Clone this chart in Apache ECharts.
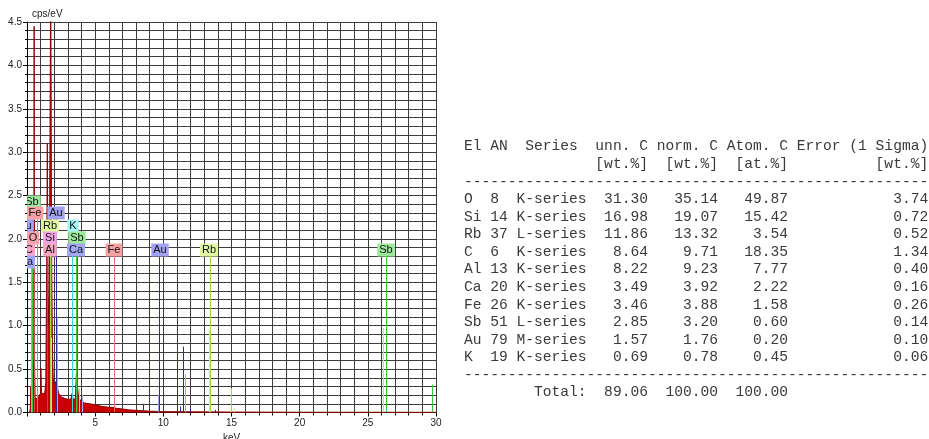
<!DOCTYPE html>
<html>
<head>
<meta charset="utf-8">
<script src="https://cdn.jsdelivr.net/npm/echarts@6/dist/echarts.min.js"></script>
<style>
html, body { margin: 0; padding: 0; background: #fff; }
#chart { width: 929px; height: 439px; }
</style>
</head>
<body>
<div id="chart"></div>
<script>
// ---- EDS spectrum outline: energy (keV) and intensity (cps/eV) ----
const spectrumKeV = [0.20, 0.24, 0.28, 0.32, 0.45, 0.50, 0.525, 0.55, 0.60, 0.70, 0.80, 0.92, 0.98, 1.02, 1.06,
  1.15, 1.30, 1.38, 1.44, 1.49, 1.54, 1.60, 1.66, 1.74, 1.80, 1.86, 1.92, 2.00, 2.08, 2.14, 2.22, 2.32, 2.50,
  2.80, 3.10, 3.25, 3.31, 3.38, 3.55, 3.62, 3.70, 3.80, 4.00, 4.20, 4.60, 5.00, 5.50, 6.00, 6.25, 6.38, 6.50,
  7.00, 7.50, 8.00, 8.50, 9.00, 10.0, 12.0, 15.0, 20.0, 30.0];
const spectrumCps = [0.00, 0.05, 0.30, 0.12, 0.10, 0.60, 4.45, 0.60, 0.16, 0.17, 0.16, 0.18, 0.22, 0.51, 0.22,
  0.20, 0.22, 0.35, 1.60, 3.10, 1.40, 1.00, 2.20, 5.20, 2.00, 0.80, 0.40, 0.32, 0.34, 0.36, 0.30, 0.22, 0.18,
  0.16, 0.15, 0.17, 0.22, 0.15, 0.16, 0.44, 0.30, 0.15, 0.14, 0.11, 0.10, 0.09, 0.07, 0.06, 0.06, 0.08, 0.05,
  0.04, 0.03, 0.025, 0.02, 0.015, 0.010, 0.008, 0.005, 0.003, 0.002];

// ---- element line markers: [energy keV, height cps/eV] ----
const linesC = [[0.28, 1.87]];
const linesO = [[0.52, 2.01]];
const linesAl = [[1.49, 1.87]];
const linesSi = [[1.74, 2.01]];
const linesK = [[0.26, 2.30], [3.31, 2.15]];
const linesKWeak = [[3.59, 0.20]];
const linesCa = [[0.34, 1.74], [3.69, 1.87]];
const linesCaWeak = [[4.01, 0.20]];
const linesFe = [[0.70, 2.30], [6.40, 1.87]];
const linesRb = [[1.69, 2.15], [13.39, 1.87], [14.96, 0.28]];
const linesRbWeak = [[1.75, 0.86], [13.34, 0.94], [15.20, 0.05]];
const linesSb = [[0.37, 2.43], [3.60, 2.01], [26.36, 1.87], [29.73, 0.32]];
const linesSbWeak = [[3.84, 0.28], [26.11, 0.97]];
const linesAu = [[2.12, 2.30], [9.71, 1.87], [8.49, 0.10], [11.20, 0.07], [11.44, 0.76], [11.92, 0.04], [13.78, 0.03]];
const linesAuWeak = [[2.20, 1.08], [9.63, 0.20], [11.58, 0.44]];

// ---- marker labels ----
const markerLabelText = ['Sb', 'K', 'Fe', 'Au', 'Au', 'Rb', 'K', 'O', 'Si', 'Sb', 'C', 'Al', 'Ca', 'Fe', 'Au', 'Rb', 'Sb', 'Ca'];
const markerLabelKeV  = [0.37, 0.22, 0.57, 2.13, -0.14, 1.69, 3.34, 0.42, 1.72, 3.65, 0.15, 1.68, 3.62, 6.35, 9.72, 13.32, 26.34, -0.04];
const markerLabelRow  = [2.43, 2.30, 2.30, 2.30, 2.15, 2.15, 2.15, 2.01, 2.01, 2.01, 1.87, 1.87, 1.87, 1.87, 1.87, 1.87, 1.87, 1.74];

// ---- quantification table ----
const tableEl     = ['O', 'Si', 'Rb', 'C', 'Al', 'Ca', 'Fe', 'Sb', 'Au', 'K'];
const tableAN     = [8, 14, 37, 6, 13, 20, 26, 51, 79, 19];
const tableSeries = ['K-series', 'K-series', 'L-series', 'K-series', 'K-series', 'K-series', 'K-series', 'L-series', 'M-series', 'K-series'];
const tableUnnC   = [31.30, 16.98, 11.86, 8.64, 8.22, 3.49, 3.46, 2.85, 1.57, 0.69];
const tableNormC  = [35.14, 19.07, 13.32, 9.71, 9.23, 3.92, 3.88, 3.20, 1.76, 0.78];
const tableAtomC  = [49.87, 15.42, 3.54, 18.35, 7.77, 2.22, 1.58, 0.60, 0.20, 0.45];
const tableError  = [3.74, 0.72, 0.52, 1.34, 0.40, 0.16, 0.26, 0.14, 0.10, 0.06];
const tableTotals = [89.06, 100.00, 100.00];

// ---- colours per element ----
const elementStyle = {
  C:  { box: '#f6a6c6', line: '#d05080' },
  O:  { box: '#f7a3ad', line: '#d04a58' },
  Al: { box: '#f7a6c4', line: '#c83a6a' },
  Si: { box: '#f2a4e4', line: '#c040a0' },
  K:  { box: '#a6f6f6', line: '#40d6d6', weak: '#a6eeee' },
  Ca: { box: '#a2a8f2', line: '#3f5fd6', weak: '#a6b0ee' },
  Fe: { box: '#f6a2a2', line: '#e07676' },
  Rb: { box: '#e0f8a4', line: '#9ed846', weak: '#c4ec8c' },
  Sb: { box: '#9ce89c', line: '#3cc43c', weak: '#a4eaa4' },
  Au: { box: '#a2a2f2', line: '#2c2c9c', weak: '#a4a4ea' }
};

const markerSets = [
  ['C', linesC, 'line'], ['O', linesO, 'line'], ['Al', linesAl, 'line'], ['Si', linesSi, 'line'],
  ['K', linesK, 'line'], ['K', linesKWeak, 'weak'], ['Ca', linesCa, 'line'], ['Ca', linesCaWeak, 'weak'],
  ['Fe', linesFe, 'line'], ['Rb', linesRb, 'line'], ['Rb', linesRbWeak, 'weak'],
  ['Sb', linesSb, 'line'], ['Sb', linesSbWeak, 'weak'], ['Au', linesAu, 'line'], ['Au', linesAuWeak, 'weak']
];

const chart = echarts.init(document.getElementById('chart'), null, { renderer: 'canvas' });

const gridLine = { lineStyle: { color: '#3c3c3c', width: 1 } };
const tickFont = { fontFamily: 'Liberation Sans', fontSize: 10, color: '#222' };

function markerLineSeries(el, data, kind) {
  const color = elementStyle[el][kind];
  return {
    type: 'custom',
    clip: true,
    z: 3,
    silent: true,
    data: data,
    encode: { x: 0, y: 1 },
    renderItem: function (params, api) {
      const p0 = api.coord([api.value(0), 0]);
      const p1 = api.coord([api.value(0), api.value(1)]);
      const x = Math.round(p0[0]) + 0.5;
      return {
        type: 'line',
        shape: { x1: x, y1: p0[1], x2: x, y2: p1[1] },
        style: { stroke: color, lineWidth: 1 }
      };
    }
  };
}

const series = [
  {
    type: 'line',
    name: 'spectrum',
    data: spectrumKeV.map((e, i) => [e, spectrumCps[i]]),
    showSymbol: false,
    clip: true,
    z: 2,
    lineStyle: { color: '#8e0000', width: 1 },
    areaStyle: { color: '#c80000', opacity: 1 },
    silent: true
  }
];
markerSets.forEach(s => series.push(markerLineSeries(s[0], s[1], s[2])));

series.push({
  type: 'custom',
  clip: true,
  z: 5,
  silent: true,
  data: markerLabelKeV.map((e, i) => [e, markerLabelRow[i]]),
  encode: { x: 0, y: 1 },
  renderItem: function (params, api) {
    const name = markerLabelText[params.dataIndex];
    const p = api.coord([api.value(0), api.value(1)]);
    return {
      type: 'text',
      x: Math.round(p[0]),
      y: Math.round(p[1]),
      style: {
        text: name,
        fill: '#111',
        font: '11px "Liberation Sans"',
        align: 'center', verticalAlign: 'middle',
        textAlign: 'center', textVerticalAlign: 'middle',
        backgroundColor: elementStyle[name].box,
        padding: [1, 2, 1, 2]
      }
    };
  }
});

// table text lines built from the table arrays
function padR(s, n) { s = String(s); while (s.length < n) s += ' '; return s; }
function padL(s, n) { s = String(s); while (s.length < n) s = ' ' + s; return s; }
const tableLines = [];
tableLines.push('El AN  Series  unn. C norm. C Atom. C Error (1 Sigma)');
tableLines.push(padL('[wt.%]', 21) + padL('[wt.%]', 8) + padL('[at.%]', 8) + padL('[wt.%]', 16));
tableLines.push('-'.repeat(53));
tableEl.forEach((el, i) => {
  tableLines.push(padR(el, 3) + padR(tableAN[i], 3) + tableSeries[i] +
    padL(tableUnnC[i].toFixed(2), 7) + padL(tableNormC[i].toFixed(2), 8) +
    padL(tableAtomC[i].toFixed(2), 8) + padL(tableError[i].toFixed(2), 16));
});
tableLines.push('-'.repeat(53));
tableLines.push(padL('Total:', 14) + padL(tableTotals[0].toFixed(2), 7) +
  padL(tableTotals[1].toFixed(2), 8) + padL(tableTotals[2].toFixed(2), 8));

const tableGraphics = tableLines.map((t, i) => ({
  type: 'text',
  left: 464,
  top: 139 + i * 17.57,
  silent: true,
  style: {
    text: t,
    fill: '#3a3a3a',
    font: '14.6px "Liberation Mono"'
  }
}));

chart.setOption({
  backgroundColor: '#ffffff',
  animation: false,
  grid: { left: 27, right: 493, top: 22, bottom: 26.5, outerBoundsMode: 'none', containLabel: false },
  xAxis: {
    type: 'value',
    min: 0, max: 30, interval: 5,
    name: 'keV', nameLocation: 'middle', nameGap: 19,
    nameTextStyle: { fontFamily: 'Liberation Sans', fontSize: 10, color: '#222' },
    axisLine: { show: true, onZero: false, lineStyle: { color: '#000', width: 1 } },
    axisTick: { show: true, length: 4, lineStyle: { color: '#000' } },
    minorTick: { show: true, splitNumber: 5, length: 3, lineStyle: { color: '#000' } },
    axisLabel: Object.assign({ margin: 6, showMinLabel: false }, tickFont),
    splitLine: Object.assign({ show: true }, gridLine),
    minorSplitLine: Object.assign({ show: true }, gridLine)
  },
  yAxis: {
    type: 'value',
    min: 0, max: 4.5, interval: 0.5,
    name: 'cps/eV', nameLocation: 'end', nameGap: 3,
    nameTextStyle: { fontFamily: 'Liberation Sans', fontSize: 10, color: '#222', align: 'left', verticalAlign: 'bottom', padding: [0, 0, 0, 5] },
    axisLine: { show: true, lineStyle: { color: '#000', width: 1 } },
    axisTick: { show: true, length: 4, lineStyle: { color: '#000' } },
    minorTick: { show: true, splitNumber: 5, length: 2, lineStyle: { color: '#000' } },
    axisLabel: Object.assign({ margin: 5, formatter: v => v.toFixed(1) }, tickFont),
    splitLine: Object.assign({ show: true }, gridLine),
    minorSplitLine: Object.assign({ show: true }, gridLine)
  },
  series: series,
  graphic: tableGraphics
});
</script>
</body>
</html>
